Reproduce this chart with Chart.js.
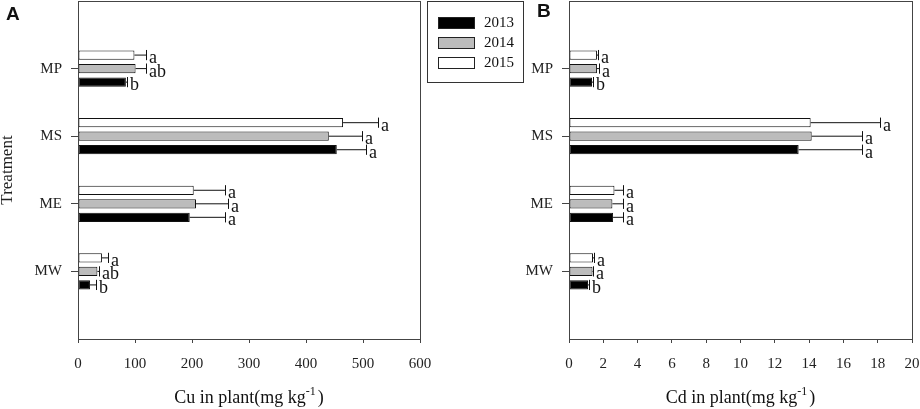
<!DOCTYPE html>
<html>
<head>
<meta charset="utf-8">
<script src="https://cdn.jsdelivr.net/npm/chart.js@4.4.0/dist/chart.umd.min.js"></script>
<style>
  body { margin: 0; background: #fff; }
  #wrap { position: relative; width: 920px; height: 409px; font-family: 'Liberation Serif', serif; }
  .panel { position: absolute; top: 0; height: 409px; }
  #boxA { left: 0; width: 440px; }
  #boxB { left: 460px; width: 460px; }
  .tag { position: absolute; font: bold 19px 'Liberation Sans', Arial, sans-serif; color: #111; }
  #legend { position: absolute; left: 427px; top: 1px; width: 95px; height: 80px; border: 1px solid #333; background: #fff; }
  .item { position: absolute; left: 10px; height: 12px; font-size: 15px; color: #111; }
  .sw { position: absolute; left: 0; top: 0; width: 35px; height: 10px; border: 1px solid #222; }
  .lab { position: absolute; left: 46px; top: -3px; line-height: 17px; }
</style>
</head>
<body>
<div id="wrap">
  <div class="panel" id="boxA"><canvas id="chartA"></canvas></div>
  <div class="panel" id="boxB"><canvas id="chartB"></canvas></div>
  <div class="tag" style="left:6px; top:3px;">A</div>
  <div class="tag" style="left:537px; top:0px;">B</div>
  <div id="legend"></div>
</div>
<script>
// treatments, top to bottom
const treatments = ['MP', 'MS', 'ME', 'MW'];
const years = ['2013', '2014', '2015'];
const yearColors = ['#000000', '#bcbcbc', '#ffffff'];

// Cu in plant (mg/kg)
const cu2013 = [84, 454, 196, 21];
const cu2014 = [101, 440, 207, 34];
const cu2015 = [99, 465, 203, 42];
const cuErr2013 = [2, 51, 62, 10];
const cuErr2014 = [19, 58, 57, 2];
const cuErr2015 = [20, 62, 55, 11];
const cuLet2013 = ['b', 'a', 'a', 'b'];
const cuLet2014 = ['ab', 'a', 'a', 'ab'];
const cuLet2015 = ['a', 'a', 'a', 'a'];
const cuTicks = [0, 100, 200, 300, 400, 500, 600];

// Cd in plant (mg/kg)
const cd2013 = [1.34, 13.39, 2.57, 1.11];
const cd2014 = [1.63, 14.15, 2.53, 1.37];
const cd2015 = [1.63, 14.09, 2.65, 1.40];
const cdErr2013 = [0.06, 3.68, 0.58, 0.06];
const cdErr2014 = [0.10, 2.92, 0.62, 0.03];
const cdErr2015 = [0.06, 4.05, 0.50, 0.06];
const cdLet2013 = ['b', 'a', 'a', 'b'];
const cdLet2014 = ['a', 'a', 'a', 'a'];
const cdLet2015 = ['a', 'a', 'a', 'a'];
const cdTicks = [0, 2, 4, 6, 8, 10, 12, 14, 16, 18, 20];

const SERIF = "'Liberation Serif', 'Times New Roman', serif";
const INK = '#222';

// empty slots above and below the groups, like the original axis
const pad = (arr) => [null, ...arr, null];
const rowLabels = pad(treatments).map(v => v || '');

// legend (html box between the panels)
const legend = document.getElementById('legend');
years.forEach((y, i) => {
    const it = document.createElement('div');
    it.className = 'item';
    it.style.top = (15 + i * 20) + 'px';
    it.innerHTML = `<div class="sw" style="background:${yearColors[i]}"></div><div class="lab">${y}</div>`;
    legend.appendChild(it);
});

// frame, error bars and letters
const errorBars = {
    id: 'errorBars',
    afterDatasetsDraw(chart) {
        const { ctx, chartArea: a, scales } = chart;
        ctx.save();
        ctx.strokeStyle = '#444';
        ctx.lineWidth = 1;
        ctx.strokeRect(a.left + 0.5, a.top + 0.5, a.right - a.left, a.bottom - a.top);

        ctx.strokeStyle = '#111';
        ctx.fillStyle = '#111';
        ctx.font = '18px ' + SERIF;
        ctx.textBaseline = 'alphabetic';
        ctx.textAlign = 'left';
        chart.data.datasets.forEach((ds, i) => {
            const meta = chart.getDatasetMeta(i);
            meta.data.forEach((bar, j) => {
                const v = ds.data[j];
                if (v == null) return;
                const ex = Math.round(scales.x.getPixelForValue(v + ds.errors[j])) + 0.5;
                const hh = bar.height / 2 + 0.5;
                ctx.beginPath();
                ctx.moveTo(bar.x, bar.y);
                ctx.lineTo(ex, bar.y);
                ctx.moveTo(ex, bar.y - hh);
                ctx.lineTo(ex, bar.y + hh);
                ctx.stroke();
                ctx.fillText(ds.letters[j], ex + 2.5, bar.y + 8);
            });
        });
        ctx.restore();
    },
    afterDraw(chart, args, opts) {
        if (!opts.base) return;
        const { ctx, chartArea: a } = chart;
        ctx.save();
        ctx.fillStyle = '#111';
        ctx.textBaseline = 'middle';
        ctx.textAlign = 'left';
        const big = '18px ' + SERIF, small = '12px ' + SERIF;
        ctx.font = big;
        const w1 = ctx.measureText(opts.base).width;
        const w3 = ctx.measureText(opts.tail).width;
        ctx.font = small;
        const w2 = ctx.measureText(opts.sup).width;
        let x = (a.left + a.right) / 2 - (w1 + w2 + w3 + 2) / 2;
        const y = 398;
        ctx.font = big;
        ctx.fillText(opts.base, x, y);
        x += w1;
        ctx.font = small;
        ctx.fillText(opts.sup, x, y - 6);
        x += w2 + 2;
        ctx.font = big;
        ctx.fillText(opts.tail, x, y);
        ctx.restore();
    }
};

function makeChart(id, vals, errs, lets, ticks, yWidth, rightPad, xTitle, yTitle) {
    // drawn top to bottom: 2015, 2014, 2013
    const order = [2, 1, 0];
    const datasets = order.map(k => ({
        label: years[k],
        data: pad(vals[k]),
        errors: pad(errs[k]),
        letters: pad(lets[k]),
        backgroundColor: yearColors[k],
        borderColor: '#111',
        borderWidth: 1,
        borderSkipped: false,
        categoryPercentage: 0.6,
        barPercentage: 0.68
    }));
    return new Chart(document.getElementById(id), {
        type: 'bar',
        data: { labels: rowLabels, datasets },
        options: {
            indexAxis: 'y',
            responsive: true,
            maintainAspectRatio: false,
            animation: false,
            layout: { padding: { top: 1, right: rightPad, bottom: 0, left: 0 } },
            plugins: {
                legend: { display: false },
                tooltip: { enabled: false },
                errorBars: xTitle
            },
            scales: {
                x: {
                    type: 'linear',
                    min: ticks[0],
                    max: ticks[ticks.length - 1],
                    afterBuildTicks: (s) => { s.ticks = ticks.map(v => ({ value: v })); },
                    afterFit: (s) => { s.height = 70; s.paddingLeft = 0; s.paddingRight = 0; },
                    border: { display: false },
                    grid: { drawOnChartArea: false, tickLength: 4, color: '#444' },
                    ticks: { color: INK, padding: 12, font: { family: SERIF, size: 15 } }
                },
                y: {
                    type: 'category',
                    offset: false,
                    afterFit: (s) => { s.width = yWidth; s.paddingTop = 0; s.paddingBottom = 0; },
                    border: { display: false },
                    grid: {
                        offset: false,
                        drawOnChartArea: false,
                        tickLength: 7,
                        color: (c) => (rowLabels[c.index] ? '#444' : 'rgba(0,0,0,0)')
                    },
                    ticks: { color: INK, padding: 9, font: { family: SERIF, size: 15 } },
                    title: {
                        display: !!yTitle,
                        text: yTitle || '',
                        color: INK,
                        padding: 0,
                        font: { family: SERIF, size: 17, lineHeight: 0.9 }
                    }
                }
            }
        },
        plugins: [errorBars]
    });
}

makeChart('chartA',
    [cu2013, cu2014, cu2015], [cuErr2013, cuErr2014, cuErr2015], [cuLet2013, cuLet2014, cuLet2015],
    cuTicks, 78, 20,
    { base: 'Cu in plant(mg kg', sup: '-1', tail: ')' }, 'Treatment');

makeChart('chartB',
    [cd2013, cd2014, cd2015], [cdErr2013, cdErr2014, cdErr2015], [cdLet2013, cdLet2014, cdLet2015],
    cdTicks, 109, 8,
    { base: 'Cd in plant(mg kg', sup: '-1', tail: ')' }, null);
</script>
</body>
</html>
